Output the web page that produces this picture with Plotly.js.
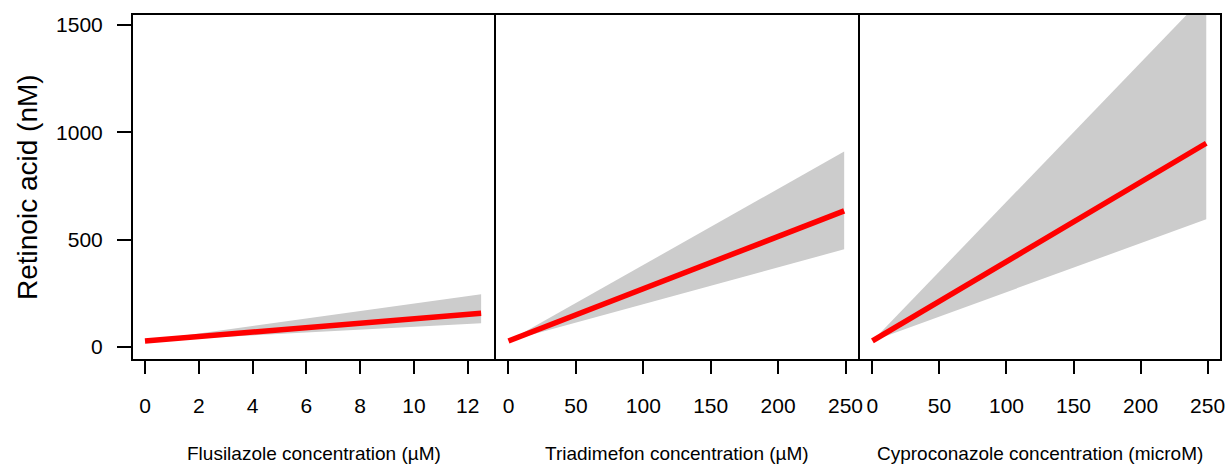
<!DOCTYPE html>
<html>
<head>
<meta charset="utf-8">
<script src="https://cdn.plot.ly/plotly-3.0.1.min.js"></script>
<style>html,body{margin:0;padding:0;background:#fff;}#chart{width:1229px;height:465px;}</style>
</head>
<body>
<div id="chart"></div>
<script>
// Panel 1: Flusilazole
var flusX   = [0, 12.5];
var flusFit = [28, 157];
var flusLo  = [28, 110];
var flusHi  = [28, 246];
// Panel 2: Triadimefon
var triaX   = [0, 249];
var triaFit = [28, 634];
var triaLo  = [28, 455];
var triaHi  = [28, 910];
// Panel 3: Cyproconazole
var cypX    = [0, 249];
var cypFit  = [28, 949];
var cypLo   = [28, 595];
var cypHi   = [28, 1642];

var flusTicks = [0, 2, 4, 6, 8, 10, 12];
var concTicks = [0, 50, 100, 150, 200, 250];
var yTicks = [0, 500, 1000, 1500];

var xTitles = ["Flusilazole concentration (\u00b5M)", "Triadimefon concentration (\u00b5M)", "Cyproconazole concentration (microM)"];
var yTitle = "Retinoic acid (nM)";

var FONT = "Liberation Sans, Arial, sans-serif";
var bandColor = "#cccccc";
var lineColor = "#ff0000";

function band(x, lo, hi, xa) {
  return {
    x: x.concat(x.slice().reverse()),
    y: lo.concat(hi.slice().reverse()),
    xaxis: xa, yaxis: "y",
    type: "scatter", mode: "lines", fill: "toself",
    fillcolor: bandColor, line: {width: 0, color: bandColor},
    hoverinfo: "skip", showlegend: false
  };
}
function fit(x, y, xa) {
  return {
    x: x, y: y, xaxis: xa, yaxis: "y",
    type: "scatter", mode: "lines",
    line: {color: lineColor, width: 5.5},
    showlegend: false
  };
}

var data = [
  band(flusX, flusLo, flusHi, "x"),  fit(flusX, flusFit, "x"),
  band(triaX, triaLo, triaHi, "x2"), fit(triaX, triaFit, "x2"),
  band(cypX, cypLo, cypHi, "x3"),    fit(cypX, cypFit, "x3")
];

function xaxis(domain, range, ticks) {
  return {
    domain: domain, range: range, anchor: "y",
    tickmode: "array", tickvals: ticks, ticktext: ticks.map(String),
    ticks: "outside", ticklen: 13, tickwidth: 2, tickcolor: "#000",
    showline: false, showgrid: false, zeroline: false,
    tickfont: {family: FONT, size: 21, color: "#000"},
    ticklabelstandoff: 14
  };
}

var d1 = 363 / 1089, d2 = 727 / 1089;

var layout = {
  width: 1229, height: 465,
  margin: {l: 132, r: 8, t: 14, b: 105},
  paper_bgcolor: "#fff", plot_bgcolor: "#fff",
  showlegend: false,
  xaxis:  xaxis([0, d1], [-0.483, 13.016], flusTicks),
  xaxis2: xaxis([d1, d2], [-10, 260], concTicks),
  xaxis3: xaxis([d2, 1], [-10, 260], concTicks),
  yaxis: {
    range: [-60.6, 1551], domain: [0, 1],
    tickmode: "array", tickvals: yTicks, ticktext: yTicks.map(String),
    ticks: "outside", ticklen: 14, tickwidth: 2, tickcolor: "#000",
    showline: false, showgrid: false, zeroline: false,
    tickfont: {family: FONT, size: 21, color: "#000"},
    ticklabelstandoff: 10
  },
  shapes: ["x", "x2", "x3"].map(function (xa) {
    return {type: "rect", xref: xa + " domain", yref: "y domain",
            x0: 0, x1: 1, y0: 0, y1: 1, line: {color: "#000", width: 2}};
  }),
  annotations: [
    {text: xTitles[0], xref: "paper", yref: "paper", x: d1 / 2, y: -0.2688, xanchor: "center", yanchor: "middle", showarrow: false, font: {family: FONT, size: 19, color: "#000"}},
    {text: xTitles[1], xref: "paper", yref: "paper", x: (d1 + d2) / 2, y: -0.2688, xanchor: "center", yanchor: "middle", showarrow: false, font: {family: FONT, size: 19, color: "#000"}},
    {text: xTitles[2], xref: "paper", yref: "paper", x: (d2 + 1) / 2, y: -0.2688, xanchor: "center", yanchor: "middle", showarrow: false, font: {family: FONT, size: 19, color: "#000"}},
    {text: yTitle, xref: "paper", yref: "paper", x: -0.0964, y: 0.5, xanchor: "center", yanchor: "middle", textangle: -90, showarrow: false, font: {family: FONT, size: 28, color: "#000"}}
  ]
};

Plotly.newPlot("chart", data, layout, {displayModeBar: false, staticPlot: true});
</script>
</body>
</html>
